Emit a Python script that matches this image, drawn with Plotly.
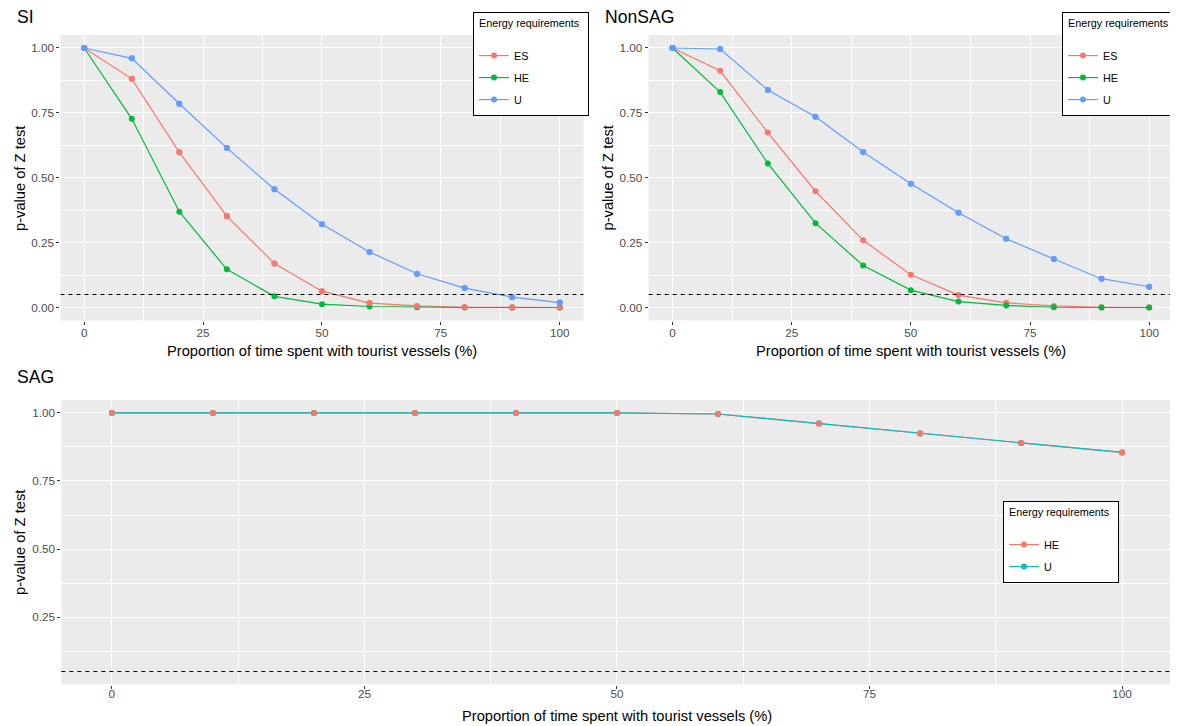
import plotly.graph_objects as go

# ---------------- data ----------------
proportion = [0, 10, 20, 30, 40, 50, 60, 70, 80, 90, 100]

si_es = [1.000, 0.881, 0.598, 0.352, 0.170, 0.063, 0.017, 0.006, 0.001, 0.000, 0.000]
si_he = [1.000, 0.727, 0.369, 0.147, 0.043, 0.013, 0.004, 0.001, 0.000, 0.000, 0.000]
si_u = [1.000, 0.960, 0.785, 0.615, 0.456, 0.321, 0.214, 0.130, 0.075, 0.040, 0.019]

nonsag_es = [1.000, 0.912, 0.674, 0.448, 0.259, 0.126, 0.048, 0.018, 0.006, 0.001, 0.000]
nonsag_he = [1.000, 0.830, 0.555, 0.325, 0.162, 0.067, 0.023, 0.008, 0.001, 0.000, 0.000]
nonsag_u = [1.000, 0.996, 0.838, 0.735, 0.599, 0.477, 0.365, 0.265, 0.187, 0.111, 0.080]

sag_he = [1.000, 1.000, 1.000, 1.000, 1.000, 1.000, 0.996, 0.961, 0.924, 0.890, 0.855]
sag_u = [1.000, 1.000, 1.000, 1.000, 1.000, 1.000, 0.996, 0.961, 0.924, 0.890, 0.855]

SIG_LEVEL = 0.05

x_ticks = [0, 25, 50, 75, 100]
y_ticks_top = [0.00, 0.25, 0.50, 0.75, 1.00]
y_ticks_sag = [0.25, 0.50, 0.75, 1.00]

panel_titles = ["SI", "NonSAG", "SAG"]
x_title = "Proportion of time spent with tourist vessels (%)"
y_title = "p-value of Z test"
legend_title = "Energy requirements"

# ---------------- styling ----------------
WIN_W, WIN_H = 1178, 726
OFF = 8  # default page margin of the html body
W, H = WIN_W - OFF, WIN_H - OFF
FONT = "Liberation Sans, Arial, sans-serif"
C3 = {"ES": "#F8766D", "HE": "#00BA38", "U": "#619CFF"}
C2 = {"HE": "#F8766D", "U": "#00BFC4"}
LW = 1.2
MS = 6


def px_x(p):
    return (p - OFF) / W


def px_y(p):
    return 1 - (p - OFF) / H


fig = go.Figure()

# panel domains (window pixels)
panels = {
    "SI": dict(x=(60.5, 584.0), y=(35.0, 320.5)),
    "NonSAG": dict(x=(649.2, 1174.0), y=(35.0, 320.5)),
    "SAG": dict(x=(61.4, 1173.6), y=(400.0, 684.5)),
}


def add_series(xa, ya, name, yvals, color, legend, rank, show=True):
    fig.add_trace(go.Scatter(
        x=proportion, y=yvals, name=name, mode="lines+markers",
        line=dict(color=color, width=LW),
        marker=dict(color=color, size=MS),
        xaxis=xa, yaxis=ya, legend=legend, legendrank=rank, showlegend=show,
        legendgroup=f"{legend}-{name}",
    ))


def add_points(xa, ya, yvals, color):
    fig.add_trace(go.Scatter(
        x=proportion, y=yvals, mode="markers",
        marker=dict(color=color, size=MS),
        xaxis=xa, yaxis=ya, showlegend=False, hoverinfo="skip",
    ))


# SI
add_series("x", "y", "ES", si_es, C3["ES"], "legend", 1)
add_series("x", "y", "HE", si_he, C3["HE"], "legend", 2)
add_series("x", "y", "U", si_u, C3["U"], "legend", 3)
add_points("x", "y", si_es, C3["ES"])
add_points("x", "y", si_u, C3["U"])

# NonSAG
add_series("x2", "y2", "ES", nonsag_es, C3["ES"], "legend2", 1)
add_series("x2", "y2", "HE", nonsag_he, C3["HE"], "legend2", 2)
add_series("x2", "y2", "U", nonsag_u, C3["U"], "legend2", 3)
add_points("x2", "y2", nonsag_u, C3["U"])

# SAG
add_series("x3", "y3", "HE", sag_he, C2["HE"], "legend3", 1)
add_series("x3", "y3", "U", sag_u, C2["U"], "legend3", 2)
add_points("x3", "y3", sag_he, C2["HE"])

axis_common = dict(
    showgrid=True, gridcolor="white", gridwidth=1.1,
    minor=dict(showgrid=True, gridcolor="white", gridwidth=0.5),
    zeroline=False, showline=False,
    ticks="outside", ticklen=3, tickwidth=1, tickcolor="#333333",
    tickfont=dict(family=FONT, size=11.7, color="#4D4D4D"),
)

layout = dict(
    width=W, height=H, margin=dict(l=0, r=0, t=0, b=0),
    paper_bgcolor="white", plot_bgcolor="#EBEBEB",
    font=dict(family=FONT),
    showlegend=True,
)

for key, xa, ya in [("SI", "xaxis", "yaxis"), ("NonSAG", "xaxis2", "yaxis2"), ("SAG", "xaxis3", "yaxis3")]:
    p = panels[key]
    suffix = xa[5:]
    layout[xa] = dict(
        axis_common,
        domain=[px_x(p["x"][0]), px_x(p["x"][1])],
        range=[-5, 105], tickvals=x_ticks, ticktext=[str(v) for v in x_ticks],
        anchor="y" + suffix,
        ticklabelstandoff=(-5 if key == "SAG" else -2),
    )
    layout[xa]["minor"] = dict(axis_common["minor"], tickvals=[12.5, 37.5, 62.5, 87.5], ticks="")
    if key == "SAG":
        yr = [0.0025, 1.0475]
        yt = y_ticks_sag
    else:
        yr = [-0.05, 1.05]
        yt = y_ticks_top
    ymin = [0.125, 0.375, 0.625, 0.875]
    layout[ya] = dict(
        axis_common,
        domain=[px_y(p["y"][1]), px_y(p["y"][0])],
        range=yr, tickvals=yt, ticktext=[f"{v:.2f}" for v in yt],
        anchor="x" + suffix,
    )
    layout[ya]["minor"] = dict(axis_common["minor"], tickvals=ymin, ticks="")

leg_common = dict(
    bgcolor="white", bordercolor="black", borderwidth=1,
    font=dict(family=FONT, size=10.8, color="black"),
    title=dict(text="&nbsp;" + legend_title + "&nbsp;&nbsp;<br> ",
               font=dict(family=FONT, size=10.8, color="black")),
    xanchor="left", yanchor="top", itemwidth=30, tracegroupgap=3,
    traceorder="grouped",
)
layout["legend"] = dict(leg_common, x=px_x(473), y=px_y(12))
layout["legend2"] = dict(leg_common, x=px_x(1063), y=px_y(12))
layout["legend3"] = dict(leg_common, x=px_x(1003), y=px_y(501))

fig.update_layout(**layout)

# significance reference line
for xa, ya in [("x", "y"), ("x2", "y2"), ("x3", "y3")]:
    fig.add_shape(type="line", xref=f"{xa} domain", yref=ya, x0=0, x1=1,
                  y0=SIG_LEVEL, y1=SIG_LEVEL,
                  line=dict(color="black", width=1.1, dash="4px,4px"), layer="above")

# titles & axis titles
ann = []
ann.append(dict(text=panel_titles[0], x=px_x(15), y=px_y(17)))
ann.append(dict(text=panel_titles[1], x=px_x(604), y=px_y(17)))
ann.append(dict(text=panel_titles[2], x=px_x(15), y=px_y(377)))
for a in ann:
    a.update(xref="paper", yref="paper", xanchor="left", yanchor="middle",
             showarrow=False, font=dict(family=FONT, size=17.6, color="black"))
    fig.add_annotation(**a)

for cx, cy in [(322, 351), (911.6, 351), (617.5, 716)]:
    fig.add_annotation(text=x_title, x=px_x(cx), y=px_y(cy), xref="paper", yref="paper",
                       xanchor="center", yanchor="middle", showarrow=False,
                       font=dict(family=FONT, size=14.7, color="black"))
for cx, cy in [(20, 178), (609, 178), (20, 542)]:
    fig.add_annotation(text=y_title, x=px_x(cx), y=px_y(cy), xref="paper", yref="paper",
                       xanchor="center", yanchor="middle", showarrow=False, textangle=-90,
                       font=dict(family=FONT, size=14.7, color="black"))

fig.write_html("out.html")
